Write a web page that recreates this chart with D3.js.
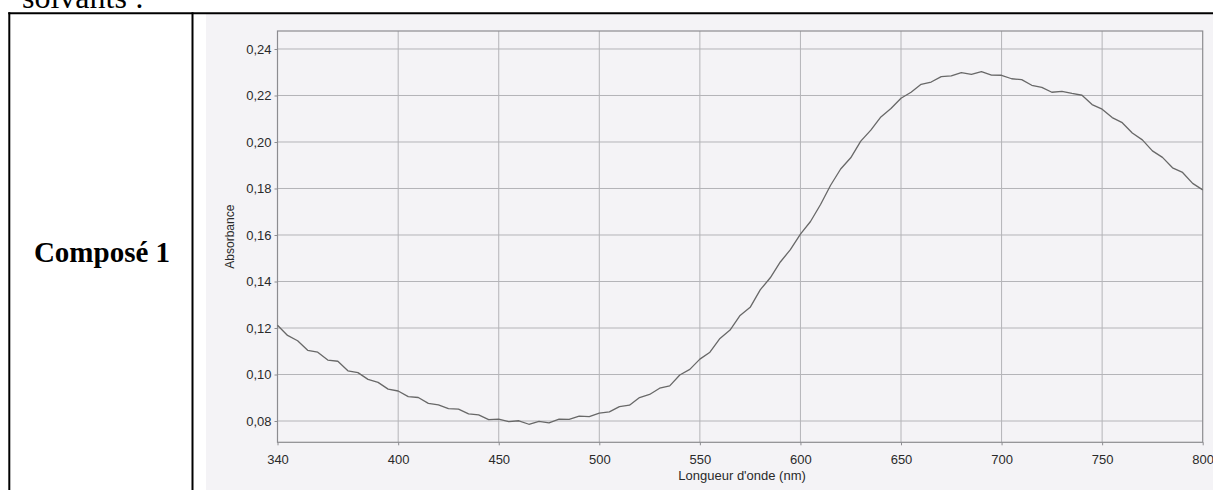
<!DOCTYPE html>
<html>
<head>
<meta charset="utf-8">
<script src="https://cdn.jsdelivr.net/npm/d3@7"></script>
<style>
  body { margin: 0; background: #fff; }
  svg { display: block; }
  .tick text { font-family: "Liberation Sans", Arial, sans-serif; font-size: 13px; fill: #2a2a2a; }
</style>
</head>
<body>
<div id="chart"></div>
<script>
const wavelength = [340,345,350,355,360,365,370,375,380,385,390,395,400,405,410,415,420,425,430,435,
  440,445,450,455,460,465,470,475,480,485,490,495,500,505,510,515,520,525,530,535,
  540,545,550,555,560,565,570,575,580,585,590,595,600,605,610,615,620,625,630,635,
  640,645,650,655,660,665,670,675,680,685,690,695,700,705,710,715,720,725,730,735,
  740,745,750,755,760,765,770,775,780,785,790,795,800]
const absorbance = [0.1212,0.1168,0.1145,0.1104,0.1096,0.1062,0.1057,0.1016,0.1008,0.0979,0.0966,0.0937,0.0929,0.0905,0.0901,0.0876,0.0869,0.0853,0.0851,0.0831,
  0.0826,0.0806,0.0808,0.0797,0.0801,0.0786,0.0798,0.0792,0.0808,0.0807,0.0821,0.0819,0.0834,0.0839,0.0862,0.0868,0.0901,0.0914,0.0941,0.0951,
  0.0998,0.1022,0.1066,0.1096,0.1155,0.1191,0.1254,0.1289,0.1364,0.1416,0.1484,0.1537,0.1604,0.1658,0.1731,0.1814,0.1884,0.1932,0.2004,0.2051,
  0.2108,0.2144,0.2188,0.2214,0.2248,0.2258,0.2281,0.2284,0.2298,0.2291,0.2303,0.2288,0.2287,0.2272,0.2268,0.2244,0.2235,0.2214,0.2218,0.2209,
  0.2201,0.2161,0.2141,0.2105,0.2083,0.2039,0.2009,0.1962,0.1934,0.1889,0.1869,0.1822,0.1794]
const xTicks = [340,400,450,500,550,600,650,700,750,800]
const yTicks = [0.08,0.10,0.12,0.14,0.16,0.18,0.20,0.22,0.24]

const W = 1213, H = 490
const frame = {left: 277.5, right: 1202.7, top: 31, bottom: 442.3}

const svg = d3.select('#chart').append('svg')
  .attr('width', W)
  .attr('height', H)

// scanned page area
svg.append('rect')
  .attr('x', 206).attr('y', 14)
  .attr('width', W - 206).attr('height', H - 14)
  .attr('fill', '#f4f3f6')

// document text + table lines (the heading is cut by the top edge, as in the scan)
svg.append('text')
  .attr('x', 22).attr('y', 8)
  .attr('font-family', '"Liberation Serif", "Times New Roman", serif')
  .attr('font-size', 32)
  .text('solvants :')

const table = svg.append('g').attr('stroke', '#000').attr('stroke-width', 2)
table.append('line').attr('x1', 8.3).attr('x2', W).attr('y1', 13.3).attr('y2', 13.3)
table.append('line').attr('x1', 9.3).attr('x2', 9.3).attr('y1', 12.3).attr('y2', H)
table.append('line').attr('x1', 192.5).attr('x2', 192.5).attr('y1', 12.3).attr('y2', H)

svg.append('text')
  .attr('x', 102).attr('y', 262)
  .attr('text-anchor', 'middle')
  .attr('font-family', '"Liberation Serif", "Times New Roman", serif')
  .attr('font-weight', 'bold')
  .attr('font-size', 29)
  .text('Composé 1')

// scales
const x = d3.scaleLinear()
  .domain([340, 800])
  .range([frame.left, frame.right])

const y = d3.scaleLinear()
  .domain([0.07084, 0.24774])
  .range([frame.bottom, frame.top])

const fmt = d => d.toFixed(2).replace('.', ',')

// grid
const grid = svg.append('g').attr('stroke', '#b4b4b8').attr('stroke-width', 1)
grid.selectAll('.gx')
  .data(xTicks.filter(d => d > 340 && d < 800))
  .enter().append('line')
  .attr('x1', d => x(d)).attr('x2', d => x(d))
  .attr('y1', frame.top).attr('y2', frame.bottom)
grid.selectAll('.gy')
  .data(yTicks)
  .enter().append('line')
  .attr('x1', frame.left).attr('x2', frame.right)
  .attr('y1', d => y(d)).attr('y2', d => y(d))

// frame
svg.append('rect')
  .attr('x', frame.left).attr('y', frame.top)
  .attr('width', frame.right - frame.left)
  .attr('height', frame.bottom - frame.top)
  .attr('fill', 'none')
  .attr('stroke', '#8c8c90')
  .attr('stroke-width', 1.2)

// axes
const xAxis = svg.append('g')
  .attr('transform', 'translate(0,' + frame.bottom + ')')
  .call(d3.axisBottom(x).tickValues(xTicks).tickSize(3).tickPadding(9).tickFormat(d3.format('d')))
const yAxis = svg.append('g')
  .attr('transform', 'translate(' + frame.left + ',0)')
  .call(d3.axisLeft(y).tickValues(yTicks).tickSize(3).tickPadding(3).tickFormat(fmt))
;[xAxis, yAxis].forEach(a => {
  a.select('.domain').remove()
  a.selectAll('.tick line').attr('stroke', '#8c8c90')
})

// axis titles
svg.append('text')
  .attr('x', (frame.left + frame.right) / 2 + 2).attr('y', 480)
  .attr('text-anchor', 'middle')
  .attr('font-family', '"Liberation Sans", Arial, sans-serif')
  .attr('font-size', 13)
  .attr('fill', '#2a2a2a')
  .text("Longueur d'onde (nm)")

svg.append('text')
  .attr('transform', 'translate(234,' + ((frame.top + frame.bottom) / 2) + ') rotate(-90)')
  .attr('text-anchor', 'middle')
  .attr('font-family', '"Liberation Sans", Arial, sans-serif')
  .attr('font-size', 12)
  .attr('fill', '#2a2a2a')
  .text('Absorbance')

// spectrum
const line = d3.line()
  .x((d, i) => x(wavelength[i]))
  .y(d => y(d))

svg.append('path')
  .datum(absorbance)
  .attr('d', line)
  .attr('fill', 'none')
  .attr('stroke', '#686868')
  .attr('stroke-width', 1.3)
  .attr('stroke-linejoin', 'round')
</script>
</body>
</html>
